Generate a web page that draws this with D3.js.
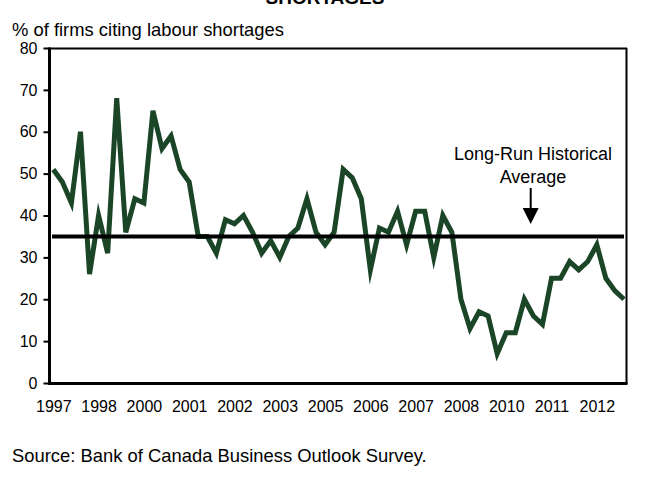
<!DOCTYPE html>
<html><head><meta charset="utf-8">
<script src="https://cdn.jsdelivr.net/npm/d3@7"></script>
<style>body{margin:0;background:#fff}svg{display:block;font-family:"Liberation Sans",Arial,sans-serif}</style>
</head><body><svg id="c" width="645" height="485"></svg>
<script>
// quarterly, 1997Q1 .. 2012Q4
const values = [51,48,43,60,26,40,31,68,36,44,43,65,56,59,51,48,35,35,31,39,38,40,
  36,31,34,30,35,37,44,36,33,36,51,49,44,27,37,36,41,33,41,41,30,40,36,20,13,17,16,7,12,12,
  20,16,14,25,25,29,27,29,33,25,22,20];
const tickLabels = ["1997","1998","2000","2001","2002","2003","2005","2006","2007","2008","2010","2011","2012"];
const tickIndex = [0,5,10,15,20,25,30,35,40,45,50,55,60];
const yTicks = [0,10,20,30,40,50,60,70,80];
const average = 35;

const svg = d3.select("#c");
const x = d3.scaleLinear().domain([0, values.length-1]).range([53.3, 624]);
const y = d3.scaleLinear().domain([0, 80]).range([383, 48]);

// title (cut off at top edge, as in the reference)
svg.append("text").attr("x", 325).attr("y", 4).attr("text-anchor","middle")
  .attr("font-size", 19).attr("font-weight","bold").text("SHORTAGES");
svg.append("text").attr("x", 12).attr("y", 36).attr("font-size", 18.4)
  .text("% of firms citing labour shortages");

// y axis
const yAxis = d3.axisLeft(y).tickValues(yTicks).tickSize(6).tickPadding(6);
const ga = svg.append("g").attr("transform","translate(49.5,0)").call(yAxis);
ga.select(".domain").remove();
ga.selectAll(".tick line").attr("stroke","#000").attr("stroke-width",2);
ga.selectAll(".tick text").attr("font-size",16).attr("font-family","Liberation Sans, Arial, sans-serif").attr("fill","#000");

// x labels
const xAxis = d3.axisBottom(x).tickValues(tickIndex).tickSize(0).tickPadding(18)
  .tickFormat((d,i)=>tickLabels[i]);
const gx = svg.append("g").attr("transform","translate(0,383)").call(xAxis);
gx.select(".domain").remove();
gx.selectAll(".tick text").attr("font-size",16).attr("font-family","Liberation Sans, Arial, sans-serif").attr("fill","#000");

// frame
svg.append("line").attr("x1",49).attr("x2",627).attr("y1",48.5).attr("y2",48.5).attr("stroke","#000").attr("stroke-width",2);
svg.append("line").attr("x1",626.5).attr("x2",626.5).attr("y1",48).attr("y2",384).attr("stroke","#000").attr("stroke-width",2);
svg.append("line").attr("x1",49.5).attr("x2",49.5).attr("y1",47.5).attr("y2",385).attr("stroke","#000").attr("stroke-width",3);
svg.append("line").attr("x1",48).attr("x2",627.5).attr("y1",383.5).attr("y2",383.5).attr("stroke","#000").attr("stroke-width",3);

// data line
const line = d3.line().x((d,i)=>x(i)).y(d=>y(d));
svg.append("path").datum(values).attr("d",line).attr("fill","none")
  .attr("stroke","#1b4527").attr("stroke-width",5).attr("stroke-linejoin","miter").attr("stroke-miterlimit",6);

// average line
svg.append("line").attr("x1",52).attr("x2",624).attr("y1",y(average)).attr("y2",y(average))
  .attr("stroke","#000").attr("stroke-width",4);

// annotation
svg.append("text").attr("x",533).attr("y",160).attr("text-anchor","middle").attr("font-size",18).text("Long-Run Historical");
svg.append("text").attr("x",533).attr("y",183).attr("text-anchor","middle").attr("font-size",18).text("Average");
svg.append("line").attr("x1",530.7).attr("x2",530.7).attr("y1",188).attr("y2",210).attr("stroke","#000").attr("stroke-width",2);
svg.append("path").attr("d","M522.7,208 L538.7,208 L530.7,224 Z").attr("fill","#000");

// source
svg.append("text").attr("x",12).attr("y",462).attr("font-size",18.4).text("Source: Bank of Canada Business Outlook Survey.");
</script></body></html>
